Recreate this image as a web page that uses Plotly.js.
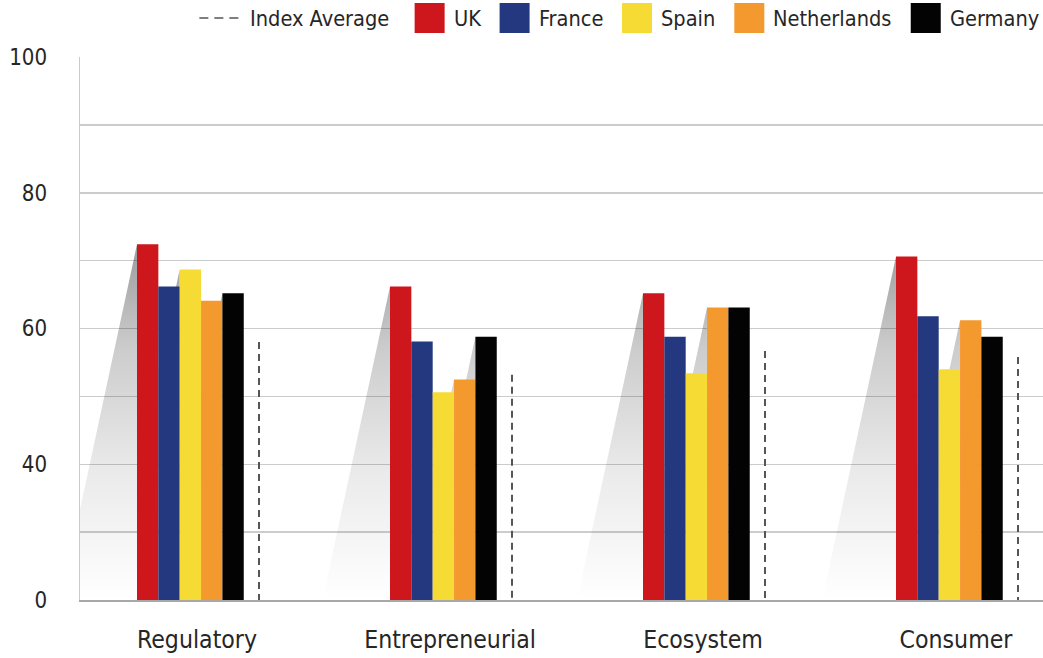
<!DOCTYPE html>
<html>
<head>
<meta charset="utf-8">
<script src="https://cdn.plot.ly/plotly-3.0.1.min.js"></script>
<style>
html,body{margin:0;padding:0;background:#ffffff;}
#chart{width:1043px;height:658px;}
</style>
</head>
<body>
<div id="chart"></div>
<script>
// ---------------- data ----------------
const categories = ['Regulatory', 'Entrepreneurial', 'Ecosystem', 'Consumer'];
const seriesNames = ['UK', 'France', 'Spain', 'Netherlands', 'Germany'];
const uk          = [72.4, 66.2, 65.2, 70.6];
const france      = [66.2, 58.1, 58.8, 61.8];
const spain       = [68.7, 50.6, 53.4, 54.0];
const netherlands = [64.1, 52.5, 63.1, 61.2];
const germany     = [65.2, 58.8, 63.1, 58.8];
const averageName = 'Index Average';
const indexAverage = [58.0, 53.2, 56.7, 55.8];
const yTickValues = [20, 40, 60, 80, 100];
const yTickLabels = ['0', '40', '60', '80', '100'];
const yGridValues = [30, 40, 50, 60, 70, 80, 90];

// ---------------- styles / geometry ----------------
const seriesValues = [uk, france, spain, netherlands, germany];
const seriesColors = ['#CD171C', '#243880', '#F6DB34', '#F4992D', '#030303'];
const W = 1043, H = 658, ML = 80, MR = 0, MT = 57, MB = 58;
const plotW = W - ML - MR, plotH = H - MT - MB;
const catPx = 253, firstCatPx = 197;
const xMin = -(firstCatPx - ML) / catPx, xMax = (W - MR - firstCatPx) / catPx;
const yMin = 20, yMax = 100;
const pxPerY = plotH / (yMax - yMin);
const barW = 21.35 / catPx;
const firstOffset = -60 / catPx;
const avgOffset = 62 / catPx;
const shadowSlope = 0.215;
const textColor = '#262626';
const xIdx = categories.map((c, i) => i);

// ---------------- fonts ----------------
const ctx = document.createElement('canvas').getContext('2d');
function measure(text, font) { ctx.font = font; return ctx.measureText(text).width; }
function installed(fam) {
  const t = 'Regulatory Entrepreneurial 0123456789';
  return measure(t, "40px '" + fam + "', monospace") !== measure(t, '40px monospace') &&
         measure(t, "40px '" + fam + "', serif") !== measure(t, '40px serif');
}
const famCandidates = ['Liberation Sans Narrow', 'DejaVu Sans Condensed', 'Roboto', 'Liberation Sans'];
let family = 'Roboto';
for (const f of famCandidates) { if (installed(f)) { family = f; break; } }
const famCss = "'" + family + "', 'Liberation Sans', sans-serif";
function sizeFor(text, target) { return Math.round(40 * target / measure(text, "40px " + famCss) * 10) / 10; }
const xFontSize = sizeFor('Regulatory', 120);
const yFontSize = sizeFor('100', 38);
const legFontSize = sizeFor('Index Average', 139);

// ---------------- traces ----------------
const traces = [];

// shadows (drawn on base axes, below bars)
const sx = [], sy = [];
seriesValues.forEach((vals, k) => {
  vals.forEach((v, i) => {
    const L = xIdx[i] + firstOffset + k * barW;
    const dx = shadowSlope * (v - yMin) * pxPerY / catPx;
    sx.push(L, L - dx, L, L, null);
    sy.push(v, yMin, yMin, v, null);
  });
});
traces.push({
  type: 'scatter', mode: 'lines', x: sx, y: sy, xaxis: 'x', yaxis: 'y',
  fill: 'toself', line: {width: 0, color: 'rgba(0,0,0,0)'},
  fillgradient: {type: 'vertical', start: yMin, stop: 73,
    colorscale: [[0, 'rgba(0,0,0,0)'], [0.35, 'rgba(0,0,0,0.08)'], [0.7, 'rgba(0,0,0,0.2)'], [1, 'rgba(0,0,0,0.4)']]},
  hoverinfo: 'skip', showlegend: false, name: 'shadow'
});

// bars
seriesValues.forEach((vals, k) => {
  traces.push({
    type: 'bar', name: seriesNames[k], x: xIdx, y: vals,
    xaxis: 'x2', yaxis: 'y2',
    offset: firstOffset + k * barW, width: barW,
    marker: {color: seriesColors[k], line: {width: 0}},
    showlegend: false
  });
});

// index average dashed lines
const ax = [], ay = [];
indexAverage.forEach((v, i) => { ax.push(xIdx[i] + avgOffset, xIdx[i] + avgOffset, null); ay.push(v, yMin, null); });
traces.push({
  type: 'scatter', mode: 'lines', name: averageName, x: ax, y: ay,
  xaxis: 'x2', yaxis: 'y2',
  line: {color: '#555555', width: 2, dash: '7px,5px'},
  showlegend: false
});

// ---------------- custom legend ----------------
const legFont = legFontSize + 'px ' + famCss;
const shapes = [], annotations = [];
const legY = 18, sq = 30;
const px2x = p => (p - ML) / plotW;
const py2y = p => (H - MB - p) / plotH;
const items = [{kind: 'dash', name: averageName}].concat(seriesNames.map((n, k) => ({kind: 'sq', name: n, color: seriesColors[k]})));
let cursor = 1039;
for (let j = items.length - 1; j >= 0; j--) {
  const it = items[j];
  const tw = measure(it.name, legFont);
  const textLeft = cursor - tw;
  annotations.push({xref: 'paper', yref: 'paper', x: px2x(textLeft - 2), y: py2y(legY),
    xanchor: 'left', yanchor: 'middle', text: it.name, showarrow: false,
    font: {family: famCss, size: legFontSize, color: textColor}});
  if (it.kind === 'sq') {
    const r = textLeft - 9, l = r - sq;
    shapes.push({type: 'rect', xref: 'paper', yref: 'paper', x0: px2x(l), x1: px2x(r),
      y0: py2y(legY + sq / 2), y1: py2y(legY - sq / 2), fillcolor: it.color, line: {width: 0}});
    cursor = l - (j === 1 ? 25 : 19);
  } else {
    const r = textLeft - 12, l = r - 39;
    shapes.push({type: 'line', xref: 'paper', yref: 'paper', x0: px2x(l), x1: px2x(r),
      y0: py2y(legY), y1: py2y(legY), line: {color: '#555555', width: 1.6, dash: '9px,6px'}});
    cursor = l;
  }
}

// ---------------- layout ----------------
const layout = {
  width: W, height: H,
  margin: {l: ML, r: MR, t: MT, b: MB, pad: 0},
  paper_bgcolor: '#ffffff', plot_bgcolor: '#ffffff',
  barmode: 'overlay',
  showlegend: false,
  font: {family: famCss, color: textColor},
  xaxis: {
    range: [xMin, xMax], tickmode: 'array', tickvals: xIdx, ticktext: categories,
    showgrid: false, zeroline: false, showline: true, linecolor: '#a8a8a8', linewidth: 2,
    ticks: 'outside', ticklen: 16, tickcolor: 'rgba(0,0,0,0)',
    tickfont: {family: famCss, size: xFontSize, color: textColor}, fixedrange: true
  },
  yaxis: {
    range: [yMin, yMax], tickmode: 'array', tickvals: yTickValues, ticktext: yTickLabels,
    showgrid: false, zeroline: false, showline: true, linecolor: '#cacaca', linewidth: 1.5,
    ticks: 'outside', ticklen: 27, tickcolor: 'rgba(0,0,0,0)',
    tickfont: {family: famCss, size: yFontSize, color: textColor},
    minor: {tickmode: 'array', tickvals: yGridValues, showgrid: true, gridcolor: '#cccccc', gridwidth: 1.5, ticks: ''},
    fixedrange: true
  },
  xaxis2: {overlaying: 'x', anchor: 'y2', range: [xMin, xMax], visible: false, fixedrange: true},
  yaxis2: {overlaying: 'y', anchor: 'x2', range: [yMin, yMax], visible: false, fixedrange: true},
  shapes: shapes,
  annotations: annotations
};

Plotly.newPlot('chart', traces, layout, {displayModeBar: false, staticPlot: true});
</script>
</body>
</html>
